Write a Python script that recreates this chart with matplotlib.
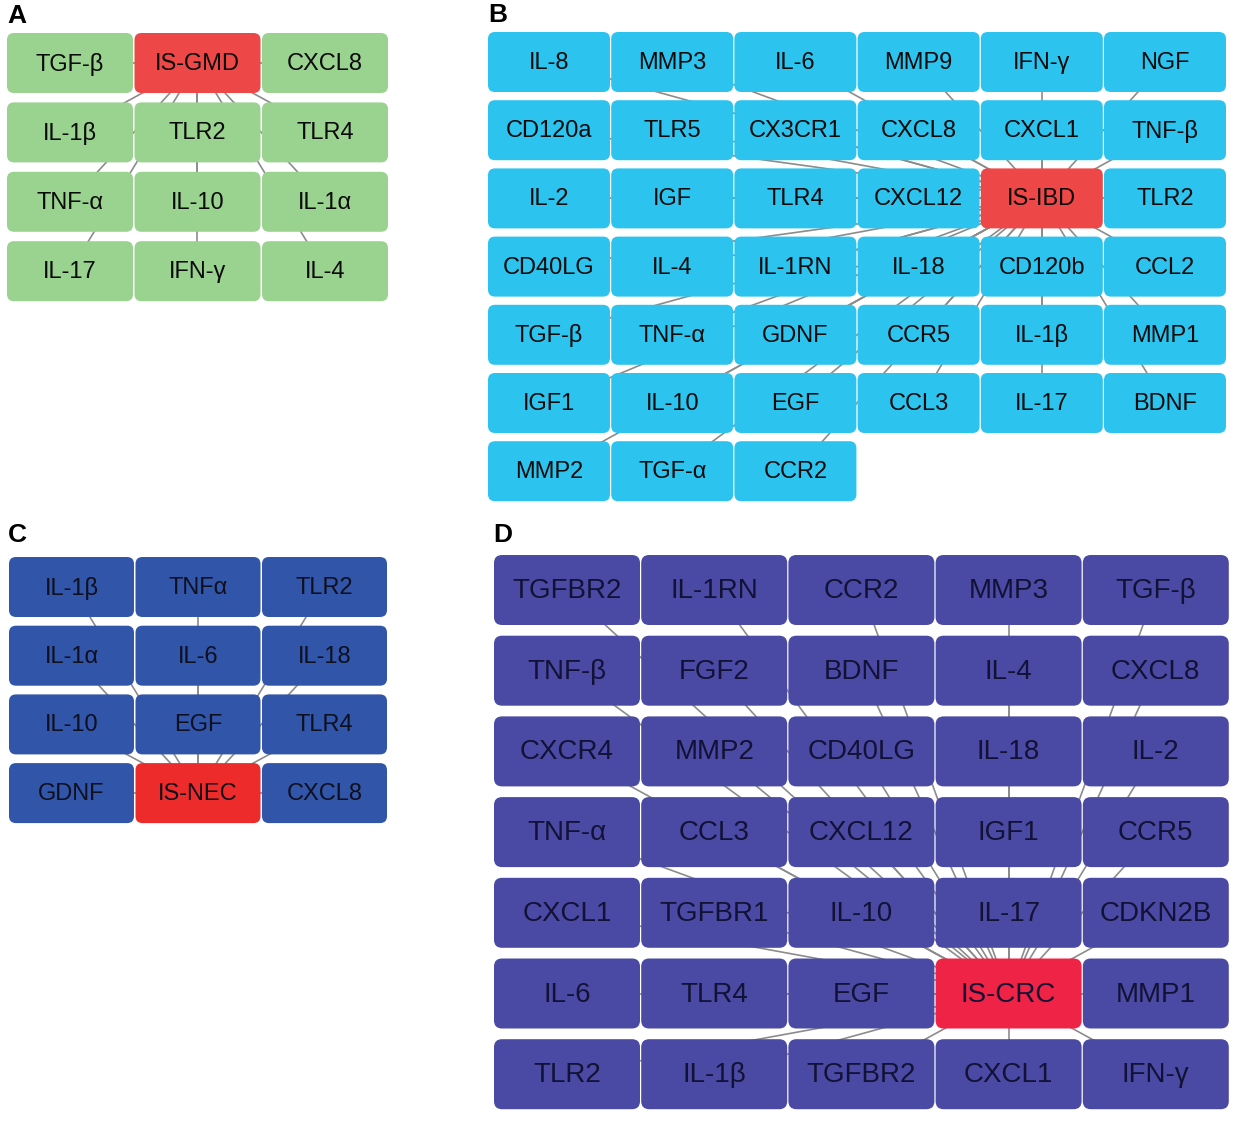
import matplotlib
matplotlib.use("Agg")
import matplotlib.pyplot as plt
from matplotlib.patches import FancyBboxPatch

plt.rcParams['font.family'] = ['Liberation Sans', 'DejaVu Sans']

# ---- data: node labels per grid row ----
nodes_A = [["TGF-β", "IS-GMD", "CXCL8"],
           ["IL-1β", "TLR2", "TLR4"],
           ["TNF-α", "IL-10", "IL-1α"],
           ["IL-17", "IFN-γ", "IL-4"]]
hub_A = "IS-GMD"

nodes_B = [["IL-8", "MMP3", "IL-6", "MMP9", "IFN-γ", "NGF"],
           ["CD120a", "TLR5", "CX3CR1", "CXCL8", "CXCL1", "TNF-β"],
           ["IL-2", "IGF", "TLR4", "CXCL12", "IS-IBD", "TLR2"],
           ["CD40LG", "IL-4", "IL-1RN", "IL-18", "CD120b", "CCL2"],
           ["TGF-β", "TNF-α", "GDNF", "CCR5", "IL-1β", "MMP1"],
           ["IGF1", "IL-10", "EGF", "CCL3", "IL-17", "BDNF"],
           ["MMP2", "TGF-α", "CCR2"]]
hub_B = "IS-IBD"

nodes_C = [["IL-1β", "TNFα", "TLR2"],
           ["IL-1α", "IL-6", "IL-18"],
           ["IL-10", "EGF", "TLR4"],
           ["GDNF", "IS-NEC", "CXCL8"]]
hub_C = "IS-NEC"

nodes_D = [["TGFBR2", "IL-1RN", "CCR2", "MMP3", "TGF-β"],
           ["TNF-β", "FGF2", "BDNF", "IL-4", "CXCL8"],
           ["CXCR4", "MMP2", "CD40LG", "IL-18", "IL-2"],
           ["TNF-α", "CCL3", "CXCL12", "IGF1", "CCR5"],
           ["CXCL1", "TGFBR1", "IL-10", "IL-17", "CDKN2B"],
           ["IL-6", "TLR4", "EGF", "IS-CRC", "MMP1"],
           ["TLR2", "IL-1β", "TGFBR2", "CXCL1", "IFN-γ"]]
hub_D = "IS-CRC"

panel_letters = ["A", "B", "C", "D"]

# ---- layout / style ----
W, H = 1243, 1122
fig = plt.figure(figsize=(W / 100, H / 100), dpi=100)
ax = fig.add_axes([0, 0, 1, 1])
ax.set_xlim(0, W)
ax.set_ylim(H, 0)
ax.axis('off')

panels = [
    dict(nodes=nodes_A, hub=hub_A, x0=7, y0=33, px=127.5, py=69.4, w=126, h=60,
         fc="#9AD290", hc="#EE4747", tc="#0A0A0A", fs=17.0, letter_xy=(7, 16), r=7),
    dict(nodes=nodes_B, hub=hub_B, x0=488, y0=32, px=123.2, py=68.2, w=122, h=60,
         fc="#2CC3EE", hc="#EE4747", tc="#0A0A0A", fs=17.0, letter_xy=(488, 15), r=7),
    dict(nodes=nodes_C, hub=hub_C, x0=9, y0=557, px=126.5, py=68.7, w=125, h=60,
         fc="#3155A8", hc="#EE2B2B", tc="#0F0F1E", fs=17.0, letter_xy=(8, 535), r=7),
    dict(nodes=nodes_D, hub=hub_D, x0=494, y0=555, px=147.2, py=80.7, w=146, h=70,
         fc="#4A4AA4", hc="#EE2346", tc="#121236", fs=20.0, letter_xy=(493, 535), r=8),
]

for p, letter in zip(panels, panel_letters):
    centers = []
    hub_c = None
    for i, row in enumerate(p["nodes"]):
        for j, lab in enumerate(row):
            cx = p["x0"] + j * p["px"] + p["w"] / 2
            cy = p["y0"] + i * p["py"] + p["h"] / 2
            centers.append((lab, cx, cy))
            if lab == p["hub"] and hub_c is None:
                hub_c = (cx, cy)
    # edges from hub to every other node (drawn underneath)
    for lab, cx, cy in centers:
        if (cx, cy) == hub_c:
            continue
        ax.plot([hub_c[0], cx], [hub_c[1], cy], color="#8C8C8C", lw=1.2,
                zorder=1, solid_capstyle='butt')
    # nodes
    for lab, cx, cy in centers:
        is_hub = (cx, cy) == hub_c
        box = FancyBboxPatch((cx - p["w"] / 2, cy - p["h"] / 2), p["w"], p["h"],
                             boxstyle=f"round,pad=0,rounding_size={p['r']}",
                             fc=p["hc"] if is_hub else p["fc"], ec="none", zorder=2)
        ax.add_patch(box)
        ax.text(cx, cy + 1, lab, ha='center', va='center', fontsize=p["fs"],
                color=p["tc"], zorder=3)
    ax.text(p["letter_xy"][0], p["letter_xy"][1], letter, ha='left', va='center',
            fontsize=19, fontweight='bold', color="black", zorder=3)

fig.savefig("out.png", dpi=100, facecolor="white")
